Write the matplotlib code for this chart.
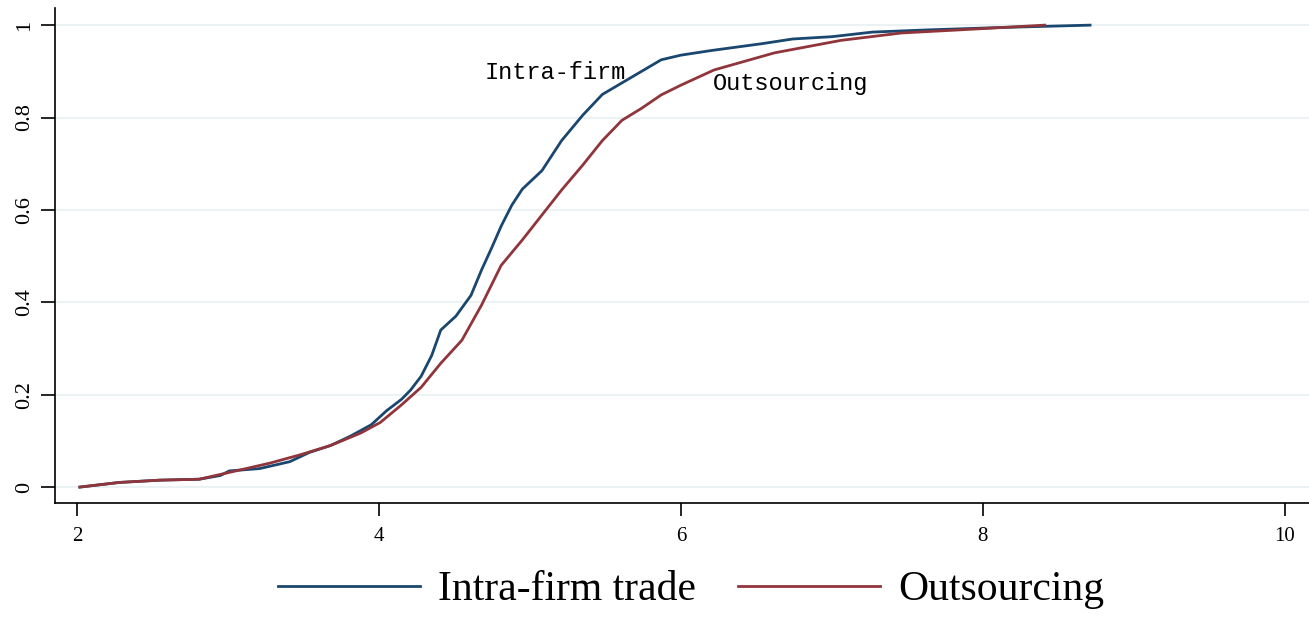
import numpy as np
import matplotlib.pyplot as plt

# CDF de intra-firm trade
intra_x = [2.02, 2.28, 2.55, 2.81, 2.95, 3.01, 3.21, 3.41, 3.54, 3.68, 3.81, 3.95, 4.05,
           4.15, 4.21, 4.28, 4.35, 4.41, 4.51, 4.61, 4.68, 4.75, 4.81, 4.88, 4.95,
           5.08, 5.21, 5.35, 5.48, 5.61, 5.74, 5.87, 6.0, 6.2, 6.54, 6.74, 7.0,
           7.27, 7.66, 8.13, 8.71]
intra_y = [0.0, 0.01, 0.015, 0.017, 0.025, 0.035, 0.04, 0.055, 0.075, 0.09, 0.11, 0.135, 0.165,
           0.19, 0.21, 0.24, 0.285, 0.34, 0.37, 0.415, 0.47, 0.52, 0.565, 0.61, 0.645,
           0.685, 0.75, 0.805, 0.85, 0.875, 0.9, 0.925, 0.935, 0.945, 0.96, 0.97, 0.975,
           0.985, 0.99, 0.995, 1.0]

# CDF de outsourcing
out_x = [2.02, 2.28, 2.55, 2.81, 3.08, 3.28, 3.48, 3.68, 3.88, 4.01, 4.15, 4.28,
         4.41, 4.55, 4.68, 4.81, 4.95, 5.08, 5.21, 5.35, 5.48, 5.61, 5.74, 5.87,
         6.0, 6.22, 6.62, 7.06, 7.46, 7.86, 8.41]
out_y = [0.0, 0.01, 0.015, 0.017, 0.037, 0.052, 0.07, 0.09, 0.117, 0.14, 0.178, 0.216,
         0.268, 0.318, 0.394, 0.48, 0.535, 0.589, 0.643, 0.697, 0.75, 0.794, 0.82, 0.849,
         0.87, 0.903, 0.94, 0.967, 0.983, 0.99, 1.0]

xticks = [2, 4, 6, 8, 10]
yticks = [0, 0.2, 0.4, 0.6, 0.8, 1]
ylabels = ["0", "0.2", "0.4", "0.6", "0.8", "1"]

blue = "#1a476f"
red = "#90353b"

fig = plt.figure(figsize=(13.09, 6.19), dpi=100)
ax = fig.add_axes([0.042, 0.187, 0.958, 0.80])

ax.plot(intra_x, intra_y, color=blue, lw=2, label="Intra-firm trade")
ax.plot(out_x, out_y, color=red, lw=2, label="Outsourcing")

ax.set_xlim(1.855, 10.16)
ax.set_ylim(-0.035, 1.037)

ax.set_xticks(xticks)
ax.set_xticklabels([str(t) for t in xticks], family="Liberation Serif", fontsize=15)
ax.set_yticks(yticks)
ax.set_yticklabels(ylabels, family="Liberation Serif", fontsize=16, rotation=90, va="center")
ax.tick_params(axis="x", length=9, width=1.2, pad=8)
ax.tick_params(axis="y", length=10, width=1.2, pad=5)

ax.grid(axis="y", color="#eaf2f3", lw=1.5)
ax.set_axisbelow(True)
for s in ["top", "right"]:
    ax.spines[s].set_visible(False)
ax.spines["left"].set_linewidth(1.2)
ax.spines["bottom"].set_linewidth(1.2)

# Etiquetas sobre las curvas
ax.text(4.70, 0.898, "Intra-firm", family="Liberation Mono", fontsize=17, va="center")
ax.text(6.21, 0.874, "Outsourcing", family="Liberation Mono", fontsize=17, va="center")

leg = fig.legend(loc="lower center", bbox_to_anchor=(0.528, -0.045), ncol=2, frameon=False,
                 prop={"family": "Liberation Serif", "size": 30},
                 handlelength=3.4, handletextpad=0.45, columnspacing=1.0)

plt.savefig("out.png", dpi=100)
